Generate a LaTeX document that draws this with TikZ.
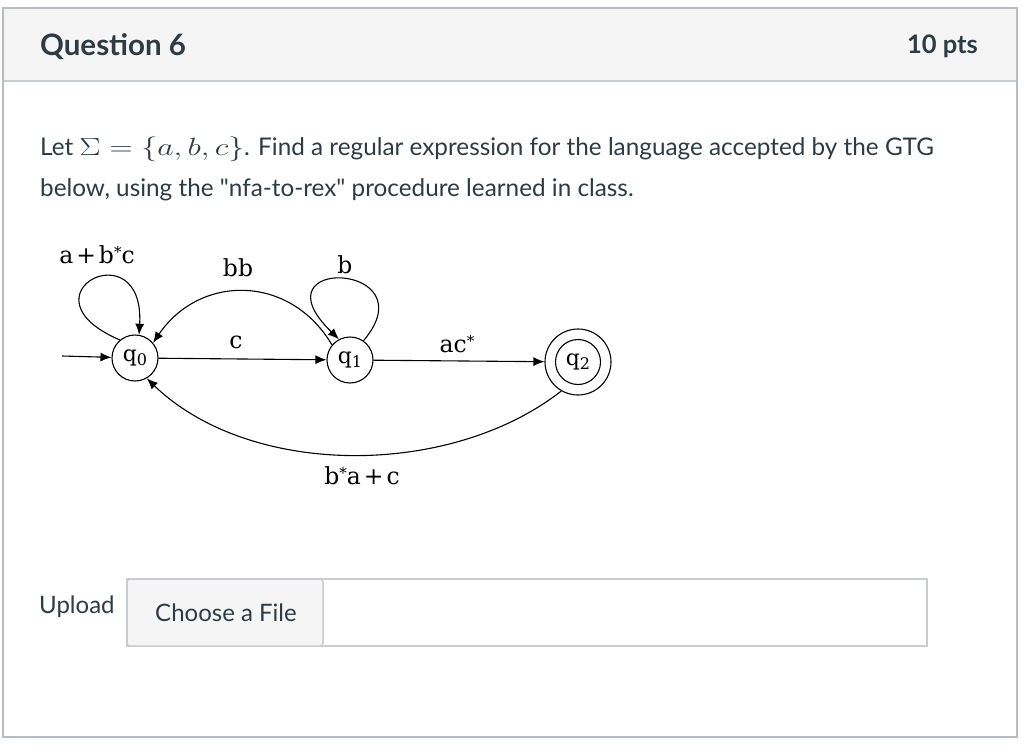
\documentclass[tikz,border=0pt]{standalone}
\usepackage[no-math]{fontspec}
\setmainfont{Lato}
\newfontfamily\qfont{Lato}
\newfontfamily\dfont{DejaVu Serif}
\usetikzlibrary{arrows.meta}
\definecolor{txt}{HTML}{2D3B45}
\definecolor{bord}{HTML}{C7CDD1}
\definecolor{hdr}{HTML}{F5F5F5}
\newcommand{\qsub}[1]{q\raisebox{-4pt}{\fontsize{16}{16}\selectfont #1}}
\newcommand{\str}{\raisebox{6pt}{\fontsize{15}{15}\selectfont *}}
\newcommand{\pl}{\hspace{3pt}+\hspace{3pt}}
\begin{document}
\begin{tikzpicture}[x=1pt,y=-1pt,
  state/.style={draw,circle,line width=1.1pt,minimum size=46pt,inner sep=0pt,font=\fontsize{22}{22}\selectfont\dfont},
  edge/.style={line width=1.1pt,-{Latex[length=11pt,width=9pt]}},
  elabel/.style={font=\fontsize{23.5}{23.5}\selectfont\dfont,inner sep=0pt},
  body/.style={anchor=base west,inner sep=0pt,text=txt}]
\useasboundingbox (0,0) rectangle (1024,746);
\fill[white] (0,0) rectangle (1024,746);
% frame and header
\draw[bord,fill=hdr,line width=1.5pt] (3,8) rectangle (1017,81);
\draw[bord!80!gray,line width=1.5pt] (3,8) rectangle (1017,737);
\node[body,font=\fontsize{29.5}{29.5}\selectfont\bfseries] (title) at (40,56) {Question 6};
\node[body,anchor=base east,font=\fontsize{25.5}{25.5}\selectfont\bfseries] (pts) at (978,54) {10 pts};
% question text
\node[body,font=\fontsize{24.3}{24.3}\selectfont] (l1) at (40,156) {Let \scalebox{1.28}[1]{\fontsize{31}{31}\selectfont$\Sigma = \{a, b, c\}$}. Find a regular expression for the language accepted by the GTG};
\node[body,font=\fontsize{24.3}{24.3}\selectfont] (l2) at (40,196) {below, using the {\qfont "nfa-to-rex"} procedure learned in class.};
% automaton
\node[state] (q0) at (135,358) {\qsub{0}};
\node[state] (q1) at (350,360) {\qsub{1}};
\node[state,minimum size=45pt] (q2) at (578,362) {\qsub{2}};
\node[draw,circle,line width=1.1pt,minimum size=66pt,inner sep=0pt] (q2o) at (578,362) {};
\coordinate (init) at (62,356);
\draw[edge] (init) -- (q0);
\draw[edge] (q0) -- (q1);
\draw[edge] (q1) -- (q2o);
\draw[edge] (q0.130) .. controls (15,295) and (145,228) .. (q0.80);
\draw[edge] (q1.55) .. controls (430,262) and (252,255) .. (q1.118);
\draw[edge] (q1.140) .. controls (290,274) and (200,274) .. (q0.40);
\draw[edge] (q2o.240) .. controls (450,478) and (250,478) .. (q0.300);
\node[elabel] (lq0) at (97,255) {a\pl b\str c};
\node[elabel] (lbb) at (238,268) {bb};
\node[elabel] (lb) at (345,265) {b};
\node[elabel] (lc) at (236,342) {c};
\node[elabel] (lac) at (457,344) {ac\str};
\node[elabel] (lba) at (362,476) {b\str a\pl c};
% upload
\node[body,font=\fontsize{24}{24}\selectfont] (up) at (39,613) {Upload};
\draw[bord,line width=1.5pt] (127,579) rectangle (927,646);
\draw[bord,fill=hdr,line width=1.5pt,rounded corners=3pt] (127,579) rectangle (323,646);
\node[text=txt,font=\fontsize{24}{24}\selectfont,inner sep=0pt] (btn) at (226,613) {Choose a File};
\end{tikzpicture}
\end{document}
